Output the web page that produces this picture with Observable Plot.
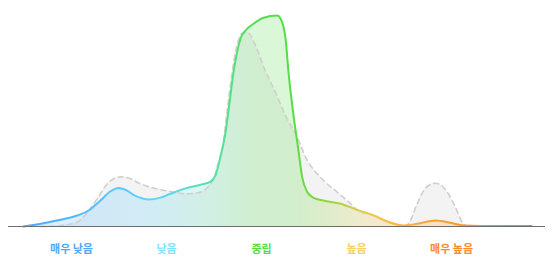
<!DOCTYPE html>
<html>
<head>
<meta charset="utf-8">
<script src="https://cdn.jsdelivr.net/npm/d3@7"></script>
<script src="https://cdn.jsdelivr.net/npm/@observablehq/plot@0.6"></script>
<style>
  html, body { margin: 0; padding: 0; background: #fff; }
  #chart svg { display: block; }
</style>
</head>
<body>
<div id="chart"></div>
<script>
// Category labels placed at score positions
const categories = ["매우 낮음", "낮음", "중립", "높음", "매우 높음"];
const categoryPos = [-2, -1, 0, 1, 2];
const categoryColors = ["#4fa8f7", "#7fe3ff", "#55dd44", "#f6d06a", "#ff8a2e"];

// Main (colored) distribution: score positions and density values
const mainX = [-2.505, -2.295, -2.116, -1.94, -1.818, -1.695, -1.589, -1.505, -1.432, -1.326, -1.189, -1.063, -0.958, -0.782, -0.642, -0.537, -0.484, -0.432, -0.379, -0.347, -0.295, -0.221, -0.168, -0.084, 0.021, 0.165, 0.2, 0.253, 0.284, 0.337, 0.389, 0.428, 0.481, 0.547, 0.653, 0.832, 1.007, 1.182, 1.323, 1.428, 1.495, 1.639, 1.832, 1.989, 2.129, 2.305, 2.842];
const mainY = [0, 1.56, 3.18, 5.21, 7.58, 12.3, 16.7, 18.3, 17.4, 14.5, 12.8, 13.7, 15.5, 18.3, 19.8, 21.3, 24.2, 33.2, 44.5, 55.0, 73.0, 89.0, 92.9, 96.1, 98.9, 100, 98.6, 89.0, 73.1, 52.6, 36.0, 23.4, 16.3, 13.6, 12.3, 10.8, 7.9, 5.2, 2.4, 0.95, 0.47, 1.28, 2.84, 1.75, 0.47, 0.24, 0.24];

// Comparison (gray dashed) distribution
const refX = [-2.326, -2.116, -1.94, -1.818, -1.729, -1.624, -1.558, -1.484, -1.4, -1.274, -1.137, -0.958, -0.782, -0.642, -0.558, -0.502, -0.463, -0.414, -0.361, -0.292, -0.239, -0.2, -0.151, -0.063, 0.024, 0.129, 0.253, 0.376, 0.481, 0.516, 0.653, 0.797, 0.937, 1.007, 1.182, 1.323, 1.428, 1.495, 1.547, 1.639, 1.708, 1.768, 1.832, 1.895, 1.955, 2.042, 2.113, 2.165];
const refY = [0, 0.47, 2.04, 7.58, 13.1, 20.2, 22.5, 23.5, 23.0, 20.2, 18.2, 16.6, 15.5, 16.3, 19.0, 22.6, 28.9, 36.0, 55.0, 77.9, 89.0, 91.7, 92.1, 85.8, 75.5, 65.3, 52.6, 42.3, 31.3, 28.9, 21.8, 16.3, 10.8, 7.9, 5.2, 2.4, 0.7, 0, 1.28, 10.8, 17.1, 19.7, 20.5, 19.4, 16.3, 9.1, 2.0, 0];

const mainData = mainX.map((x, i) => ({x, y: mainY[i]}));
const refData = refX.map((x, i) => ({x, y: refY[i]}));
const labelData = categories.map((name, i) => ({name, x: categoryPos[i], color: categoryColors[i]}));

const curve = "monotone-x";

const chart = Plot.plot({
  width: 556,
  height: 273,
  marginTop: 15,
  marginBottom: 47,
  marginLeft: 8,
  marginRight: 11,
  x: {domain: [-2.663, 2.989], axis: null},
  y: {domain: [0, 100], axis: null},
  color: {type: "identity"},
  marks: [
    Plot.areaY(refData, {x: "x", y: "y", fill: "#c8c8c8", fillOpacity: 0.22, curve}),
    Plot.areaY(mainData, {x: "x", y: "y", fill: "url(#mainGrad)", fillOpacity: 0.22, curve}),
    Plot.lineY(refData, {x: "x", y: "y", stroke: "#cfcfcf", strokeWidth: 1.6, strokeDasharray: "5,4", curve}),
    Plot.lineY(mainData, {x: "x", y: "y", stroke: "url(#mainGrad)", strokeWidth: 2, curve}),
    Plot.ruleY([0], {stroke: "#6e6e6e", strokeWidth: 1}),
    Plot.text(labelData, {
      x: "x", text: "name", fill: "color", frameAnchor: "bottom", dy: 23,
      fontSize: 11, fontWeight: "bold", fontFamily: "'Noto Sans CJK KR', sans-serif",
      textAnchor: "middle", lineAnchor: "middle"
    })
  ]
});

// gradient definition along the horizontal extent of each shape
const ns = "http://www.w3.org/2000/svg";
const defs = document.createElementNS(ns, "defs");
const grad = document.createElementNS(ns, "linearGradient");
grad.setAttribute("id", "mainGrad");
grad.setAttribute("x1", "0"); grad.setAttribute("x2", "1");
grad.setAttribute("y1", "0"); grad.setAttribute("y2", "0");
const stops = [
  [0, "#4da6ff"], [0.25, "#5fd3ff"], [0.378, "#55e3a8"], [0.44, "#55dd55"],
  [0.53, "#55dd44"], [0.585, "#88d63c"], [0.683, "#f2c94c"], [0.8, "#ffa035"], [1, "#ff7f0e"]
];
for (const [o, c] of stops) {
  const s = document.createElementNS(ns, "stop");
  s.setAttribute("offset", o);
  s.setAttribute("stop-color", c);
  grad.appendChild(s);
}
defs.appendChild(grad);
chart.insertBefore(defs, chart.firstChild);

document.getElementById("chart").appendChild(chart);
</script>
</body>
</html>
